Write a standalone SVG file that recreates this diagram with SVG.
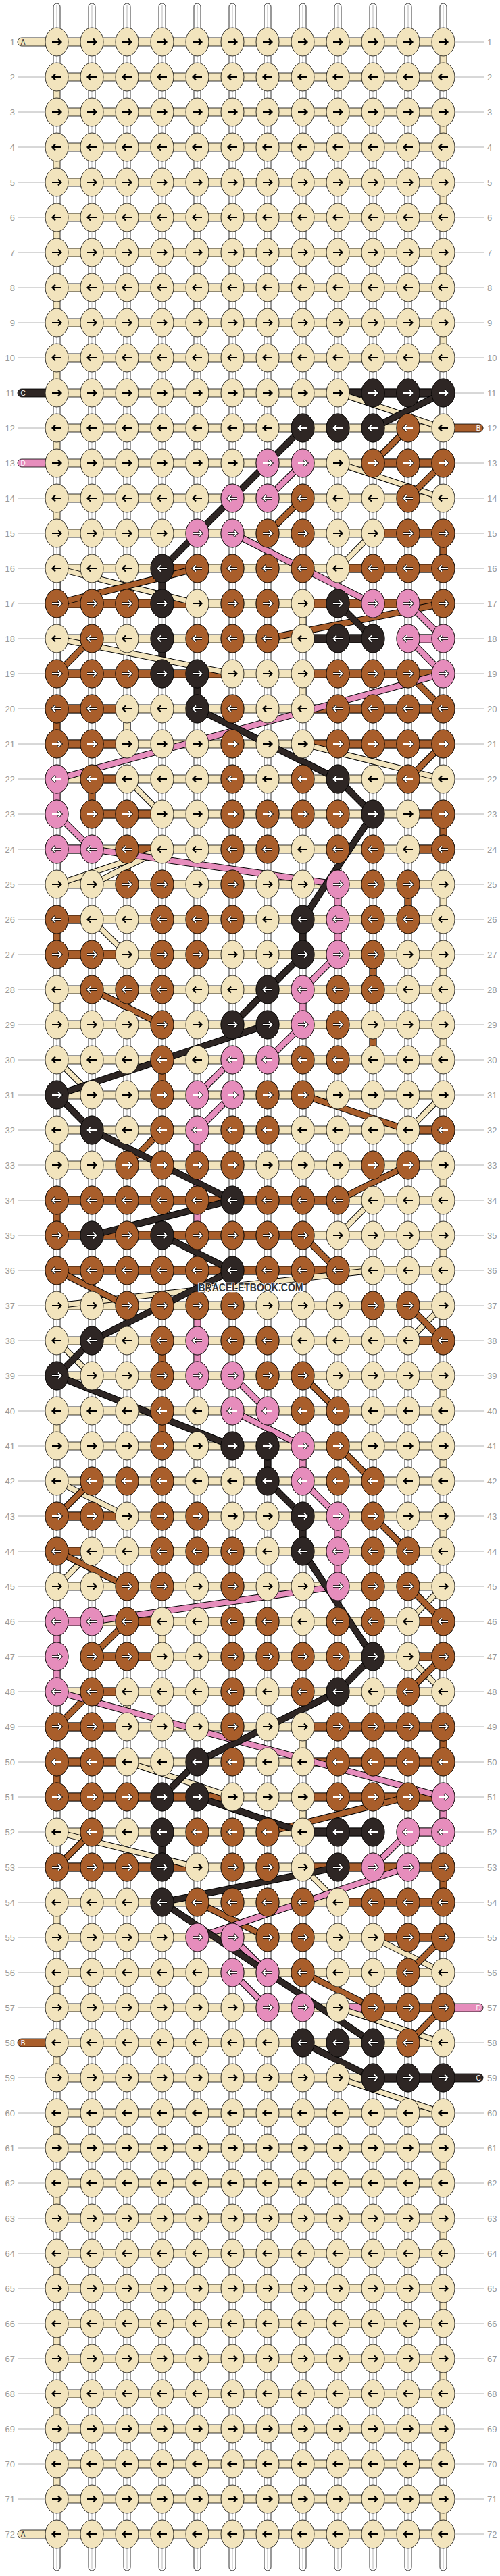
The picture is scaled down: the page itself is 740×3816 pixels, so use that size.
<svg xmlns="http://www.w3.org/2000/svg" xmlns:xlink="http://www.w3.org/1999/xlink" width="740" height="3816" viewBox="0 0 740 3816">
<defs>
<style>
text{font-family:"Liberation Sans",Arial,sans-serif}
.rl text{font-size:13px;fill:#999}
.ln{stroke:#b0b0b0;stroke-width:1;fill:none}
.lc{fill:#F2E4BD;stroke:#000;stroke-width:.8}
.lb{fill:#A95E2B;stroke:#000;stroke-width:.8}
.lk{fill:#2E2624;stroke:#000;stroke-width:.8}
.lp{fill:#E68DBC;stroke:#000;stroke-width:.8}
.ab{stroke:#000;stroke-width:2.2;fill:none}
.ao{stroke:#000;stroke-width:3.6;fill:none}
.aw{stroke:#fff;stroke-width:1.8;fill:none}
.tl{font-size:10px;text-anchor:middle}
.tb{fill:none;stroke:#000}
</style>
<path id="ar" d="M-7 0H6M2-4.5 6.5 0 2 4.5"/>
<path id="al" d="M7 0H-6M-2-4.5-6.5 0-2 4.5"/>
<g id="cr"><ellipse class="lc" rx="17" ry="21"/><use href="#ar" class="ab"/></g>
<g id="cl"><ellipse class="lc" rx="17" ry="21"/><use href="#al" class="ab"/></g>
<g id="wr"><use href="#ar" class="ao"/><use href="#ar" class="aw"/></g>
<g id="wl"><use href="#al" class="ao"/><use href="#al" class="aw"/></g>
<g id="br"><ellipse class="lb" rx="17" ry="21"/><use href="#wr"/></g>
<g id="bl"><ellipse class="lb" rx="17" ry="21"/><use href="#wl"/></g>
<g id="kr"><ellipse class="lk" rx="17" ry="21"/><use href="#wr"/></g>
<g id="kl"><ellipse class="lk" rx="17" ry="21"/><use href="#wl"/></g>
<g id="pr"><ellipse class="lp" rx="17" ry="21"/><use href="#wr"/></g>
<g id="pl"><ellipse class="lp" rx="17" ry="21"/><use href="#wl"/></g>
<g id="cR"><use href="#cr" x="84"/><use href="#cr" x="136"/><use href="#cr" x="188"/><use href="#cr" x="240"/><use href="#cr" x="292"/><use href="#cr" x="344"/><use href="#cr" x="396"/><use href="#cr" x="448"/><use href="#cr" x="500"/><use href="#cr" x="552"/><use href="#cr" x="604"/><use href="#cr" x="656"/></g>
<g id="cL"><use href="#cl" x="84"/><use href="#cl" x="136"/><use href="#cl" x="188"/><use href="#cl" x="240"/><use href="#cl" x="292"/><use href="#cl" x="344"/><use href="#cl" x="396"/><use href="#cl" x="448"/><use href="#cl" x="500"/><use href="#cl" x="552"/><use href="#cl" x="604"/><use href="#cl" x="656"/></g>
<g id="FR"><path class="ln" d="M26 0H67M673 0H716"/><rect class="lc" x="84" y="-6" width="572" height="12"/></g>
<g id="vw"><rect x="-5" y="17" width="10" height="18" fill="#fff" stroke="#000" stroke-width=".8"/><path d="M0 17V35" stroke="#999" stroke-width=".7"/></g>
<rect id="vc" class="lc" x="-5" y="17" width="10" height="18"/>
<rect id="vb" class="lb" x="-5" y="17" width="10" height="18"/>
<rect id="vk" class="lk" x="-5" y="17" width="10" height="18"/>
<rect id="vp" class="lp" x="-5" y="17" width="10" height="18"/>
<g id="VO"><use href="#vw" x="84"/><use href="#vw" x="136"/><use href="#vw" x="188"/><use href="#vw" x="240"/><use href="#vw" x="292"/><use href="#vw" x="344"/><use href="#vw" x="396"/><use href="#vw" x="448"/><use href="#vw" x="500"/><use href="#vw" x="552"/><use href="#vw" x="604"/><use href="#vc" x="656"/></g>
<g id="VE"><use href="#vc" x="84"/><use href="#vw" x="136"/><use href="#vw" x="188"/><use href="#vw" x="240"/><use href="#vw" x="292"/><use href="#vw" x="344"/><use href="#vw" x="396"/><use href="#vw" x="448"/><use href="#vw" x="500"/><use href="#vw" x="552"/><use href="#vw" x="604"/><use href="#vw" x="656"/></g>
<rect id="hb" class="lb" x="12" y="-6" width="28" height="12"/>
<rect id="hk" class="lk" x="12" y="-6" width="28" height="12"/>
<rect id="hp" class="lp" x="12" y="-6" width="28" height="12"/>
<rect id="hn" x="12" y="-7" width="28" height="14" fill="#fff"/>
<g id="ts"><path d="M-5 50V10a5 5 0 0 1 10 0V50" fill="#fff" stroke="#000" stroke-width=".8"/><path d="M0 7V50" stroke="#999" stroke-width=".7"/></g>
<g id="bs"><path d="M-5 3760V3803a5 5 0 0 0 10 0V3760" fill="#fff" stroke="#000" stroke-width=".8"/><path d="M0 3760V3806" stroke="#999" stroke-width=".7"/></g>
<path id="tLp" d="M70-6H32a6 6 0 0 0 0 12H70"/>
<path id="tRp" d="M670-6H709a6 6 0 0 1 0 12H670"/>
<path id="TK" d="M656 582L552 634M448 634L240 842M500 894L552 946M292 1050L500 1154M500 1154L552 1206M552 1206L448 1362M448 1414L344 1518M396 1518L84 1622M84 1622L136 1674M136 1674L344 1778M344 1778L136 1830M240 1830L344 1882M344 1882L136 1986M136 1986L84 2038M84 2038L344 2142M396 2194L448 2246M448 2298L552 2454M552 2454L500 2506M500 2506L292 2610M292 2610L240 2662M292 2662L448 2714M500 2766L240 2818M240 2818L552 3026M448 3026L552 3078"/>
<path id="TP" d="M448 686L396 738M344 790L552 894M604 894L656 946M604 946L656 998M656 998L84 1154M84 1206L136 1258M136 1258L500 1310M500 1414L448 1466M448 1518L396 1570M344 1570L292 1622M344 1622L292 1674M344 2038L396 2090M344 2090L448 2142M448 2194L500 2246M500 2350L136 2402M84 2506L656 2662M604 2714L552 2766M604 2766L292 2870M344 2870L396 2922M344 2922L396 2974"/>
<path id="TB" d="M604 634L552 686M656 686L604 738M448 738L396 790M292 842L84 894M656 894L396 946M136 946L84 998M604 998L656 1050M656 1102L604 1154M136 1466L240 1518M448 1622L604 1674M240 1674L188 1726M604 1726L500 1778M448 1830L500 1882M84 1882L188 1934M604 1934L656 1986M448 2038L500 2090M500 2142L552 2194M136 2194L84 2246M552 2246L604 2298M84 2298L188 2350M604 2350L656 2402M188 2402L136 2454M656 2454L604 2506M136 2506L84 2558M604 2662L396 2714M136 2714L84 2766M292 2818L396 2870M656 2870L604 2922M448 2922L552 2974M656 2974L604 3026"/>
<path id="TC" d="M500 582L656 634M500 686L656 738M552 790L500 842M84 842L292 894M84 946L344 998M448 1102L656 1154M188 1154L240 1206M240 1258L84 1310M240 1258L136 1310M136 1362L188 1414M84 1570L136 1622M656 1622L604 1674M552 1778L500 1830M552 1882L84 1934M656 1934L604 1986M84 1986L136 2038M84 2194L188 2246M136 2298L84 2350M656 2350L604 2402M604 2454L656 2506M188 2610L344 2662M84 2714L292 2766M448 2766L500 2818M552 2870L656 2922M500 2974L656 3026M500 3078L656 3130"/>
<g id="p11"><use href="#cR"/><use href="#kr" x="552"/><use href="#kr" x="604"/><use href="#kr" x="656"/></g>
<g id="p12"><use href="#cL"/><use href="#kl" x="448"/><use href="#kl" x="500"/><use href="#kl" x="552"/><use href="#bl" x="604"/></g>
<g id="p13"><use href="#cR"/><use href="#pr" x="396"/><use href="#pr" x="448"/><use href="#br" x="552"/><use href="#br" x="604"/><use href="#br" x="656"/></g>
<g id="p14"><use href="#cL"/><use href="#pl" x="344"/><use href="#pl" x="396"/><use href="#bl" x="448"/><use href="#bl" x="604"/></g>
<g id="p15"><use href="#cR"/><use href="#pr" x="292"/><use href="#pr" x="344"/><use href="#br" x="396"/><use href="#br" x="448"/><use href="#br" x="604"/><use href="#br" x="656"/></g>
<g id="p16"><use href="#cL"/><use href="#kl" x="240"/><use href="#bl" x="292"/><use href="#bl" x="344"/><use href="#bl" x="396"/><use href="#bl" x="448"/><use href="#bl" x="552"/><use href="#bl" x="604"/><use href="#bl" x="656"/></g>
<g id="p17"><use href="#cR"/><use href="#br" x="84"/><use href="#br" x="136"/><use href="#br" x="188"/><use href="#kr" x="240"/><use href="#br" x="344"/><use href="#br" x="396"/><use href="#kr" x="500"/><use href="#pr" x="552"/><use href="#pr" x="604"/><use href="#br" x="656"/></g>
<g id="p18"><use href="#cL"/><use href="#bl" x="136"/><use href="#kl" x="240"/><use href="#bl" x="292"/><use href="#bl" x="344"/><use href="#bl" x="396"/><use href="#kl" x="500"/><use href="#kl" x="552"/><use href="#pl" x="604"/><use href="#pl" x="656"/></g>
<g id="p19"><use href="#cR"/><use href="#br" x="84"/><use href="#br" x="136"/><use href="#br" x="188"/><use href="#kr" x="240"/><use href="#kr" x="292"/><use href="#br" x="500"/><use href="#br" x="552"/><use href="#br" x="604"/><use href="#pr" x="656"/></g>
<g id="p20"><use href="#cL"/><use href="#bl" x="84"/><use href="#bl" x="136"/><use href="#kl" x="292"/><use href="#bl" x="344"/><use href="#bl" x="500"/><use href="#bl" x="552"/><use href="#bl" x="604"/><use href="#bl" x="656"/></g>
<g id="p21"><use href="#cR"/><use href="#br" x="84"/><use href="#br" x="136"/><use href="#br" x="344"/><use href="#br" x="500"/><use href="#br" x="552"/><use href="#br" x="604"/><use href="#br" x="656"/></g>
<g id="p22"><use href="#cL"/><use href="#pl" x="84"/><use href="#bl" x="136"/><use href="#bl" x="344"/><use href="#bl" x="448"/><use href="#kl" x="500"/><use href="#bl" x="604"/></g>
<g id="p23"><use href="#cR"/><use href="#pr" x="84"/><use href="#br" x="136"/><use href="#br" x="188"/><use href="#br" x="344"/><use href="#br" x="396"/><use href="#br" x="448"/><use href="#br" x="500"/><use href="#kr" x="552"/><use href="#br" x="656"/></g>
<g id="p24"><use href="#cL"/><use href="#pl" x="84"/><use href="#pl" x="136"/><use href="#bl" x="188"/><use href="#bl" x="344"/><use href="#bl" x="396"/><use href="#bl" x="500"/><use href="#bl" x="552"/><use href="#bl" x="656"/></g>
<g id="p25"><use href="#cR"/><use href="#br" x="188"/><use href="#br" x="240"/><use href="#br" x="344"/><use href="#pr" x="500"/><use href="#br" x="552"/><use href="#br" x="604"/></g>
<g id="p26"><use href="#cL"/><use href="#bl" x="84"/><use href="#bl" x="240"/><use href="#bl" x="292"/><use href="#bl" x="344"/><use href="#kl" x="448"/><use href="#pl" x="500"/><use href="#bl" x="552"/><use href="#bl" x="604"/></g>
<g id="p27"><use href="#cR"/><use href="#br" x="84"/><use href="#br" x="136"/><use href="#br" x="240"/><use href="#br" x="292"/><use href="#kr" x="448"/><use href="#pr" x="500"/><use href="#br" x="552"/></g>
<g id="p28"><use href="#cL"/><use href="#bl" x="136"/><use href="#bl" x="188"/><use href="#bl" x="240"/><use href="#kl" x="396"/><use href="#pl" x="448"/><use href="#bl" x="500"/><use href="#bl" x="552"/></g>
<g id="p29"><use href="#cR"/><use href="#br" x="240"/><use href="#kr" x="344"/><use href="#kr" x="396"/><use href="#pr" x="448"/><use href="#br" x="500"/></g>
<g id="p30"><use href="#cL"/><use href="#bl" x="240"/><use href="#pl" x="344"/><use href="#pl" x="396"/><use href="#bl" x="448"/><use href="#bl" x="500"/></g>
<g id="p31"><use href="#cR"/><use href="#kr" x="84"/><use href="#br" x="240"/><use href="#pr" x="292"/><use href="#pr" x="344"/><use href="#br" x="396"/><use href="#br" x="448"/></g>
<g id="p32"><use href="#cL"/><use href="#kl" x="136"/><use href="#bl" x="240"/><use href="#pl" x="292"/><use href="#bl" x="344"/><use href="#bl" x="396"/><use href="#bl" x="656"/></g>
<g id="p33"><use href="#cR"/><use href="#br" x="188"/><use href="#br" x="240"/><use href="#br" x="292"/><use href="#br" x="344"/><use href="#br" x="552"/><use href="#br" x="604"/></g>
<g id="p34"><use href="#cL"/><use href="#bl" x="84"/><use href="#bl" x="136"/><use href="#bl" x="188"/><use href="#bl" x="240"/><use href="#bl" x="292"/><use href="#kl" x="344"/><use href="#bl" x="396"/><use href="#bl" x="448"/><use href="#bl" x="500"/></g>
</defs>
<rect width="740" height="3816" fill="#fff"/>
<g id="frame">
<use href="#FR" y="62"/><use href="#FR" y="114"/><use href="#FR" y="166"/><use href="#FR" y="218"/><use href="#FR" y="270"/><use href="#FR" y="322"/><use href="#FR" y="374"/><use href="#FR" y="426"/><use href="#FR" y="478"/><use href="#FR" y="530"/><use href="#FR" y="582"/><use href="#FR" y="634"/><use href="#FR" y="686"/><use href="#FR" y="738"/><use href="#FR" y="790"/><use href="#FR" y="842"/><use href="#FR" y="894"/><use href="#FR" y="946"/><use href="#FR" y="998"/><use href="#FR" y="1050"/><use href="#FR" y="1102"/><use href="#FR" y="1154"/><use href="#FR" y="1206"/><use href="#FR" y="1258"/><use href="#FR" y="1310"/><use href="#FR" y="1362"/><use href="#FR" y="1414"/><use href="#FR" y="1466"/><use href="#FR" y="1518"/><use href="#FR" y="1570"/><use href="#FR" y="1622"/><use href="#FR" y="1674"/><use href="#FR" y="1726"/><use href="#FR" y="1778"/><use href="#FR" y="1830"/><use href="#FR" y="1882"/><use href="#FR" y="1934"/><use href="#FR" y="1986"/><use href="#FR" y="2038"/><use href="#FR" y="2090"/><use href="#FR" y="2142"/><use href="#FR" y="2194"/><use href="#FR" y="2246"/><use href="#FR" y="2298"/><use href="#FR" y="2350"/><use href="#FR" y="2402"/><use href="#FR" y="2454"/><use href="#FR" y="2506"/><use href="#FR" y="2558"/><use href="#FR" y="2610"/><use href="#FR" y="2662"/><use href="#FR" y="2714"/><use href="#FR" y="2766"/><use href="#FR" y="2818"/><use href="#FR" y="2870"/><use href="#FR" y="2922"/><use href="#FR" y="2974"/><use href="#FR" y="3026"/><use href="#FR" y="3078"/><use href="#FR" y="3130"/><use href="#FR" y="3182"/><use href="#FR" y="3234"/><use href="#FR" y="3286"/><use href="#FR" y="3338"/><use href="#FR" y="3390"/><use href="#FR" y="3442"/><use href="#FR" y="3494"/><use href="#FR" y="3546"/><use href="#FR" y="3598"/><use href="#FR" y="3650"/><use href="#FR" y="3702"/><use href="#FR" y="3754"/>
</g>
<g id="strands">
<use href="#ts" x="84"/><use href="#ts" x="136"/><use href="#ts" x="188"/><use href="#ts" x="240"/><use href="#ts" x="292"/><use href="#ts" x="344"/><use href="#ts" x="396"/><use href="#ts" x="448"/><use href="#ts" x="500"/><use href="#ts" x="552"/><use href="#ts" x="604"/><use href="#ts" x="656"/>
<use href="#bs" x="84"/><use href="#bs" x="136"/><use href="#bs" x="188"/><use href="#bs" x="240"/><use href="#bs" x="292"/><use href="#bs" x="344"/><use href="#bs" x="396"/><use href="#bs" x="448"/><use href="#bs" x="500"/><use href="#bs" x="552"/><use href="#bs" x="604"/><use href="#bs" x="656"/>
</g>
<g id="vertical-links">
<use href="#VO" y="62"/><use href="#VE" y="114"/><use href="#VO" y="166"/><use href="#VE" y="218"/><use href="#VO" y="270"/><use href="#VE" y="322"/><use href="#VO" y="374"/><use href="#VE" y="426"/><use href="#VO" y="478"/><use href="#VE" y="530"/><use href="#VO" y="582"/><use href="#VE" y="634"/><use href="#VO" y="686"/><use href="#VE" y="738"/><use href="#VO" y="790"/><use href="#VE" y="842"/><use href="#VO" y="894"/><use href="#VE" y="946"/><use href="#VO" y="998"/><use href="#VE" y="1050"/><use href="#VO" y="1102"/><use href="#VE" y="1154"/><use href="#VO" y="1206"/><use href="#VE" y="1258"/><use href="#VO" y="1310"/><use href="#VE" y="1362"/><use href="#VO" y="1414"/><use href="#VE" y="1466"/><use href="#VO" y="1518"/><use href="#VE" y="1570"/><use href="#VO" y="1622"/><use href="#VE" y="1674"/><use href="#VO" y="1726"/><use href="#VE" y="1778"/><use href="#VO" y="1830"/><use href="#VE" y="1882"/><use href="#VO" y="1934"/><use href="#VE" y="1986"/><use href="#VO" y="2038"/><use href="#VE" y="2090"/><use href="#VO" y="2142"/><use href="#VE" y="2194"/><use href="#VO" y="2246"/><use href="#VE" y="2298"/><use href="#VO" y="2350"/><use href="#VE" y="2402"/><use href="#VO" y="2454"/><use href="#VE" y="2506"/><use href="#VO" y="2558"/><use href="#VE" y="2610"/><use href="#VO" y="2662"/><use href="#VE" y="2714"/><use href="#VO" y="2766"/><use href="#VE" y="2818"/><use href="#VO" y="2870"/><use href="#VE" y="2922"/><use href="#VO" y="2974"/><use href="#VE" y="3026"/><use href="#VO" y="3078"/><use href="#VE" y="3130"/><use href="#VO" y="3182"/><use href="#VE" y="3234"/><use href="#VO" y="3286"/><use href="#VE" y="3338"/><use href="#VO" y="3390"/><use href="#VE" y="3442"/><use href="#VO" y="3494"/><use href="#VE" y="3546"/><use href="#VO" y="3598"/><use href="#VE" y="3650"/><use href="#VO" y="3702"/>
<use href="#vw" x="656" y="582"/><use href="#vw" x="656" y="686"/><use href="#vw" x="84" y="842"/><use href="#vw" x="656" y="894"/><use href="#vw" x="84" y="946"/><use href="#vw" x="656" y="998"/><use href="#vw" x="656" y="1102"/><use href="#vw" x="84" y="1258"/><use href="#vw" x="84" y="1570"/><use href="#vw" x="656" y="1622"/><use href="#vw" x="84" y="1882"/><use href="#vw" x="656" y="1934"/><use href="#vw" x="84" y="1986"/><use href="#vw" x="84" y="2194"/><use href="#vw" x="84" y="2298"/><use href="#vw" x="656" y="2350"/><use href="#vw" x="656" y="2454"/><use href="#vw" x="84" y="2506"/><use href="#vw" x="84" y="2714"/><use href="#vw" x="656" y="2870"/><use href="#vw" x="656" y="2974"/><use href="#vw" x="656" y="3078"/>
<use href="#vb" x="656" y="790"/><use href="#vb" x="84" y="1050"/><use href="#vb" x="136" y="1154"/><use href="#vb" x="656" y="1206"/><use href="#vb" x="188" y="1258"/><use href="#vb" x="604" y="1310"/><use href="#vb" x="84" y="1362"/><use href="#vb" x="552" y="1414"/><use href="#vb" x="552" y="1518"/><use href="#vb" x="240" y="1570"/><use href="#vb" x="84" y="1778"/><use href="#vb" x="240" y="1986"/><use href="#vb" x="240" y="2090"/><use href="#vb" x="656" y="2558"/><use href="#vb" x="84" y="2610"/><use href="#vb" x="656" y="2766"/>
<use href="#vk" x="240" y="842"/><use href="#vk" x="240" y="946"/><use href="#vk" x="292" y="998"/><use href="#vk" x="448" y="1362"/><use href="#vk" x="396" y="2142"/><use href="#vk" x="448" y="2246"/><use href="#vk" x="240" y="2714"/>
<use href="#vp" x="84" y="1154"/><use href="#vp" x="500" y="1310"/><use href="#vp" x="500" y="1362"/><use href="#vp" x="448" y="1466"/><use href="#vp" x="292" y="1674"/><use href="#vp" x="292" y="1726"/><use href="#vp" x="292" y="1778"/><use href="#vp" x="292" y="1830"/><use href="#vp" x="292" y="1882"/><use href="#vp" x="292" y="1934"/><use href="#vp" x="292" y="1986"/><use href="#vp" x="448" y="2142"/><use href="#vp" x="500" y="2246"/><use href="#vp" x="500" y="2298"/><use href="#vp" x="84" y="2402"/><use href="#vp" x="84" y="2454"/><use href="#vp" x="656" y="2662"/>
<use href="#vc" x="448" y="894"/><use href="#vc" x="448" y="998"/><use href="#vc" x="188" y="1050"/><use href="#vc" x="240" y="2402"/><use href="#vc" x="188" y="2506"/><use href="#vc" x="448" y="2558"/><use href="#vc" x="448" y="2662"/>
</g>
<g id="horizontal-links">
<use href="#hk" x="500" y="582"/><use href="#hk" x="552" y="582"/><use href="#hk" x="604" y="582"/>
<use href="#hb" x="552" y="686"/><use href="#hb" x="604" y="686"/>
<use href="#hb" x="552" y="790"/><use href="#hb" x="604" y="790"/>
<use href="#hb" x="240" y="842"/><use href="#hb" x="500" y="842"/><use href="#hb" x="552" y="842"/><use href="#hb" x="604" y="842"/>
<use href="#hb" x="84" y="894"/><use href="#hb" x="136" y="894"/><use href="#hb" x="188" y="894"/><use href="#hb" x="240" y="894"/><use href="#hb" x="448" y="894"/><use href="#hb" x="500" y="894"/><use href="#hb" x="552" y="894"/><use href="#hb" x="604" y="894"/>
<use href="#hk" x="448" y="946"/><use href="#hk" x="500" y="946"/><use href="#hn" x="552" y="946"/><use href="#hp" x="604" y="946"/>
<use href="#hb" x="84" y="998"/><use href="#hb" x="136" y="998"/><use href="#hb" x="188" y="998"/><use href="#hb" x="240" y="998"/><use href="#hb" x="292" y="998"/><use href="#hb" x="448" y="998"/><use href="#hb" x="500" y="998"/><use href="#hb" x="552" y="998"/><use href="#hb" x="604" y="998"/>
<use href="#hb" x="84" y="1050"/><use href="#hb" x="136" y="1050"/><use href="#hb" x="448" y="1050"/><use href="#hb" x="500" y="1050"/><use href="#hb" x="552" y="1050"/><use href="#hb" x="604" y="1050"/>
<use href="#hb" x="84" y="1102"/><use href="#hb" x="136" y="1102"/><use href="#hb" x="448" y="1102"/><use href="#hb" x="500" y="1102"/><use href="#hb" x="552" y="1102"/><use href="#hb" x="604" y="1102"/>
<use href="#hb" x="136" y="1154"/>
<use href="#hn" x="84" y="1206"/><use href="#hb" x="136" y="1206"/><use href="#hb" x="188" y="1206"/><use href="#hb" x="604" y="1206"/>
<use href="#hp" x="84" y="1258"/><use href="#hb" x="188" y="1258"/><use href="#hb" x="604" y="1258"/>
<use href="#hb" x="84" y="1362"/>
<use href="#hb" x="84" y="1414"/><use href="#hb" x="136" y="1414"/>
<use href="#hb" x="604" y="1674"/>
<use href="#hb" x="84" y="1778"/><use href="#hb" x="136" y="1778"/><use href="#hb" x="188" y="1778"/><use href="#hb" x="240" y="1778"/><use href="#hb" x="292" y="1778"/><use href="#hb" x="344" y="1778"/><use href="#hb" x="396" y="1778"/><use href="#hb" x="448" y="1778"/>
<use href="#hb" x="84" y="1830"/><use href="#hb" x="136" y="1830"/><use href="#hb" x="188" y="1830"/><use href="#hb" x="240" y="1830"/><use href="#hb" x="292" y="1830"/><use href="#hb" x="344" y="1830"/><use href="#hb" x="396" y="1830"/>
<use href="#hb" x="84" y="1882"/><use href="#hb" x="136" y="1882"/><use href="#hb" x="188" y="1882"/><use href="#hb" x="240" y="1882"/><use href="#hb" x="292" y="1882"/><use href="#hb" x="344" y="1882"/><use href="#hb" x="396" y="1882"/><use href="#hb" x="448" y="1882"/>
<use href="#hb" x="604" y="1986"/>
<use href="#hb" x="84" y="2246"/><use href="#hb" x="136" y="2246"/>
<use href="#hb" x="84" y="2298"/>
<use href="#hp" x="84" y="2402"/><use href="#hb" x="188" y="2402"/><use href="#hb" x="604" y="2402"/>
<use href="#hn" x="84" y="2454"/><use href="#hb" x="136" y="2454"/><use href="#hb" x="188" y="2454"/><use href="#hb" x="604" y="2454"/>
<use href="#hb" x="136" y="2506"/>
<use href="#hb" x="84" y="2558"/><use href="#hb" x="136" y="2558"/><use href="#hb" x="448" y="2558"/><use href="#hb" x="500" y="2558"/><use href="#hb" x="552" y="2558"/><use href="#hb" x="604" y="2558"/>
<use href="#hb" x="84" y="2610"/><use href="#hb" x="136" y="2610"/><use href="#hb" x="448" y="2610"/><use href="#hb" x="500" y="2610"/><use href="#hb" x="552" y="2610"/><use href="#hb" x="604" y="2610"/>
<use href="#hb" x="84" y="2662"/><use href="#hb" x="136" y="2662"/><use href="#hb" x="188" y="2662"/><use href="#hb" x="240" y="2662"/><use href="#hb" x="292" y="2662"/><use href="#hb" x="448" y="2662"/><use href="#hb" x="500" y="2662"/><use href="#hb" x="552" y="2662"/><use href="#hb" x="604" y="2662"/>
<use href="#hk" x="448" y="2714"/><use href="#hk" x="500" y="2714"/><use href="#hn" x="552" y="2714"/><use href="#hp" x="604" y="2714"/>
<use href="#hb" x="84" y="2766"/><use href="#hb" x="136" y="2766"/><use href="#hb" x="188" y="2766"/><use href="#hb" x="240" y="2766"/><use href="#hb" x="448" y="2766"/><use href="#hb" x="500" y="2766"/><use href="#hb" x="552" y="2766"/><use href="#hb" x="604" y="2766"/>
<use href="#hb" x="500" y="2818"/><use href="#hb" x="552" y="2818"/><use href="#hb" x="604" y="2818"/>
<use href="#hb" x="552" y="2870"/><use href="#hb" x="604" y="2870"/>
<use href="#hp" x="500" y="2974"/><use href="#hb" x="552" y="2974"/><use href="#hb" x="604" y="2974"/>
<use href="#hk" x="552" y="3078"/><use href="#hk" x="604" y="3078"/>
</g>
<g id="tails">
<use href="#tLp" class="lc" y="62"/><text class="tl" x="34" y="65.5" fill="#333">A</text>
<use href="#tLp" class="lk" y="582"/><text class="tl" x="34" y="585.5" fill="#fff">C</text>
<use href="#tRp" class="lb" y="634"/><text class="tl" x="708" y="637.5" fill="#fff">B</text>
<use href="#tLp" class="lp" y="686"/><text class="tl" x="34" y="689.5" fill="#fff">D</text>
<use href="#tRp" class="lp" y="2974"/><text class="tl" x="708" y="2977.5" fill="#fff">D</text>
<use href="#tLp" class="lb" y="3026"/><text class="tl" x="34" y="3029.5" fill="#fff">B</text>
<use href="#tRp" class="lk" y="3078"/><text class="tl" x="708" y="3081.5" fill="#fff">C</text>
<use href="#tLp" class="lc" y="3754"/><text class="tl" x="34" y="3757.5" fill="#333">A</text>
</g>
<g id="connectors">
<use href="#TC" class="tb" stroke-width="9"/><use href="#TC" fill="none" stroke="#F2E4BD" stroke-width="7"/>
<use href="#TB" class="tb" stroke-width="10"/><use href="#TB" fill="none" stroke="#A95E2B" stroke-width="8"/>
<use href="#TP" class="tb" stroke-width="10"/><use href="#TP" fill="none" stroke="#E68DBC" stroke-width="8"/>
<use href="#TK" class="tb" stroke-width="10"/><use href="#TK" fill="none" stroke="#2E2624" stroke-width="8"/>
</g>
<g id="knots">
<use id="row1" href="#cR" y="62"/><use id="row2" href="#cL" y="114"/><use id="row3" href="#cR" y="166"/><use id="row4" href="#cL" y="218"/><use id="row5" href="#cR" y="270"/><use id="row6" href="#cL" y="322"/><use id="row7" href="#cR" y="374"/><use id="row8" href="#cL" y="426"/><use id="row9" href="#cR" y="478"/><use id="row10" href="#cL" y="530"/>
<use id="row11" href="#p11" y="582"/><use id="row12" href="#p12" y="634"/><use id="row13" href="#p13" y="686"/><use id="row14" href="#p14" y="738"/><use id="row15" href="#p15" y="790"/><use id="row16" href="#p16" y="842"/><use id="row17" href="#p17" y="894"/><use id="row18" href="#p18" y="946"/><use id="row19" href="#p19" y="998"/><use id="row20" href="#p20" y="1050"/><use id="row21" href="#p21" y="1102"/><use id="row22" href="#p22" y="1154"/><use id="row23" href="#p23" y="1206"/><use id="row24" href="#p24" y="1258"/><use id="row25" href="#p25" y="1310"/><use id="row26" href="#p26" y="1362"/><use id="row27" href="#p27" y="1414"/><use id="row28" href="#p28" y="1466"/><use id="row29" href="#p29" y="1518"/><use id="row30" href="#p30" y="1570"/><use id="row31" href="#p31" y="1622"/><use id="row32" href="#p32" y="1674"/><use id="row33" href="#p33" y="1726"/><use id="row34" href="#p34" y="1778"/>
<g id="row35" transform="translate(0,1830)"><use href="#cR"/><use href="#br" x="84"/><use href="#kr" x="136"/><use href="#br" x="188"/><use href="#kr" x="240"/><use href="#br" x="292"/><use href="#br" x="344"/><use href="#br" x="396"/><use href="#br" x="448"/></g>
<use id="row36" href="#p34" y="1882"/><use id="row37" href="#p33" y="1934"/><use id="row38" href="#p32" y="1986"/><use id="row39" href="#p31" y="2038"/><use id="row40" href="#p30" y="2090"/><use id="row41" href="#p29" y="2142"/><use id="row42" href="#p28" y="2194"/><use id="row43" href="#p27" y="2246"/><use id="row44" href="#p26" y="2298"/><use id="row45" href="#p25" y="2350"/><use id="row46" href="#p24" y="2402"/><use id="row47" href="#p23" y="2454"/><use id="row48" href="#p22" y="2506"/><use id="row49" href="#p21" y="2558"/><use id="row50" href="#p20" y="2610"/><use id="row51" href="#p19" y="2662"/><use id="row52" href="#p18" y="2714"/><use id="row53" href="#p17" y="2766"/><use id="row54" href="#p16" y="2818"/><use id="row55" href="#p15" y="2870"/><use id="row56" href="#p14" y="2922"/><use id="row57" href="#p13" y="2974"/><use id="row58" href="#p12" y="3026"/><use id="row59" href="#p11" y="3078"/>
<use id="row60" href="#cL" y="3130"/><use id="row61" href="#cR" y="3182"/><use id="row62" href="#cL" y="3234"/><use id="row63" href="#cR" y="3286"/><use id="row64" href="#cL" y="3338"/><use id="row65" href="#cR" y="3390"/><use id="row66" href="#cL" y="3442"/><use id="row67" href="#cR" y="3494"/><use id="row68" href="#cL" y="3546"/><use id="row69" href="#cR" y="3598"/><use id="row70" href="#cL" y="3650"/><use id="row71" href="#cR" y="3702"/><use id="row72" href="#cL" y="3754"/>
</g>
<g class="rl" text-anchor="end">
<text x="22" y="66.5">1</text><text x="22" y="118.5">2</text><text x="22" y="170.5">3</text><text x="22" y="222.5">4</text><text x="22" y="274.5">5</text><text x="22" y="326.5">6</text><text x="22" y="378.5">7</text><text x="22" y="430.5">8</text><text x="22" y="482.5">9</text><text x="22" y="534.5">10</text><text x="22" y="586.5">11</text><text x="22" y="638.5">12</text><text x="22" y="690.5">13</text><text x="22" y="742.5">14</text><text x="22" y="794.5">15</text><text x="22" y="846.5">16</text><text x="22" y="898.5">17</text><text x="22" y="950.5">18</text><text x="22" y="1002.5">19</text><text x="22" y="1054.5">20</text><text x="22" y="1106.5">21</text><text x="22" y="1158.5">22</text><text x="22" y="1210.5">23</text><text x="22" y="1262.5">24</text><text x="22" y="1314.5">25</text><text x="22" y="1366.5">26</text><text x="22" y="1418.5">27</text><text x="22" y="1470.5">28</text><text x="22" y="1522.5">29</text><text x="22" y="1574.5">30</text><text x="22" y="1626.5">31</text><text x="22" y="1678.5">32</text><text x="22" y="1730.5">33</text><text x="22" y="1782.5">34</text><text x="22" y="1834.5">35</text><text x="22" y="1886.5">36</text><text x="22" y="1938.5">37</text><text x="22" y="1990.5">38</text><text x="22" y="2042.5">39</text><text x="22" y="2094.5">40</text><text x="22" y="2146.5">41</text><text x="22" y="2198.5">42</text><text x="22" y="2250.5">43</text><text x="22" y="2302.5">44</text><text x="22" y="2354.5">45</text><text x="22" y="2406.5">46</text><text x="22" y="2458.5">47</text><text x="22" y="2510.5">48</text><text x="22" y="2562.5">49</text><text x="22" y="2614.5">50</text><text x="22" y="2666.5">51</text><text x="22" y="2718.5">52</text><text x="22" y="2770.5">53</text><text x="22" y="2822.5">54</text><text x="22" y="2874.5">55</text><text x="22" y="2926.5">56</text><text x="22" y="2978.5">57</text><text x="22" y="3030.5">58</text><text x="22" y="3082.5">59</text><text x="22" y="3134.5">60</text><text x="22" y="3186.5">61</text><text x="22" y="3238.5">62</text><text x="22" y="3290.5">63</text><text x="22" y="3342.5">64</text><text x="22" y="3394.5">65</text><text x="22" y="3446.5">66</text><text x="22" y="3498.5">67</text><text x="22" y="3550.5">68</text><text x="22" y="3602.5">69</text><text x="22" y="3654.5">70</text><text x="22" y="3706.5">71</text><text x="22" y="3758.5">72</text>
</g>
<g class="rl" text-anchor="start">
<text x="721" y="66.5">1</text><text x="721" y="118.5">2</text><text x="721" y="170.5">3</text><text x="721" y="222.5">4</text><text x="721" y="274.5">5</text><text x="721" y="326.5">6</text><text x="721" y="378.5">7</text><text x="721" y="430.5">8</text><text x="721" y="482.5">9</text><text x="721" y="534.5">10</text><text x="721" y="586.5">11</text><text x="721" y="638.5">12</text><text x="721" y="690.5">13</text><text x="721" y="742.5">14</text><text x="721" y="794.5">15</text><text x="721" y="846.5">16</text><text x="721" y="898.5">17</text><text x="721" y="950.5">18</text><text x="721" y="1002.5">19</text><text x="721" y="1054.5">20</text><text x="721" y="1106.5">21</text><text x="721" y="1158.5">22</text><text x="721" y="1210.5">23</text><text x="721" y="1262.5">24</text><text x="721" y="1314.5">25</text><text x="721" y="1366.5">26</text><text x="721" y="1418.5">27</text><text x="721" y="1470.5">28</text><text x="721" y="1522.5">29</text><text x="721" y="1574.5">30</text><text x="721" y="1626.5">31</text><text x="721" y="1678.5">32</text><text x="721" y="1730.5">33</text><text x="721" y="1782.5">34</text><text x="721" y="1834.5">35</text><text x="721" y="1886.5">36</text><text x="721" y="1938.5">37</text><text x="721" y="1990.5">38</text><text x="721" y="2042.5">39</text><text x="721" y="2094.5">40</text><text x="721" y="2146.5">41</text><text x="721" y="2198.5">42</text><text x="721" y="2250.5">43</text><text x="721" y="2302.5">44</text><text x="721" y="2354.5">45</text><text x="721" y="2406.5">46</text><text x="721" y="2458.5">47</text><text x="721" y="2510.5">48</text><text x="721" y="2562.5">49</text><text x="721" y="2614.5">50</text><text x="721" y="2666.5">51</text><text x="721" y="2718.5">52</text><text x="721" y="2770.5">53</text><text x="721" y="2822.5">54</text><text x="721" y="2874.5">55</text><text x="721" y="2926.5">56</text><text x="721" y="2978.5">57</text><text x="721" y="3030.5">58</text><text x="721" y="3082.5">59</text><text x="721" y="3134.5">60</text><text x="721" y="3186.5">61</text><text x="721" y="3238.5">62</text><text x="721" y="3290.5">63</text><text x="721" y="3342.5">64</text><text x="721" y="3394.5">65</text><text x="721" y="3446.5">66</text><text x="721" y="3498.5">67</text><text x="721" y="3550.5">68</text><text x="721" y="3602.5">69</text><text x="721" y="3654.5">70</text><text x="721" y="3706.5">71</text><text x="721" y="3758.5">72</text>
</g>
<text x="371" y="1913" font-size="16" font-weight="bold" text-anchor="middle" fill="#333" stroke="#fff" stroke-width="2.5" paint-order="stroke" textLength="155" lengthAdjust="spacingAndGlyphs">BRACELETBOOK.COM</text>
</svg>
